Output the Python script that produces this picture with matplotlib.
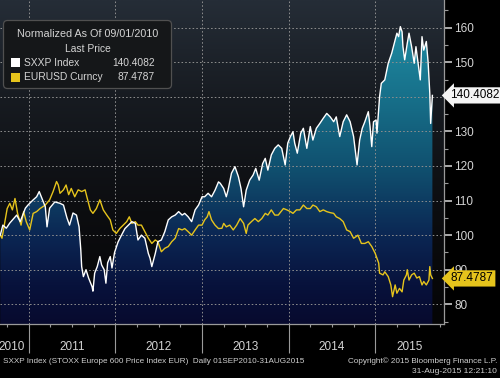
import numpy as np
import matplotlib
matplotlib.use('Agg')
import matplotlib.pyplot as plt
from matplotlib.colors import LinearSegmentedColormap
from matplotlib.patches import FancyBboxPatch, Rectangle, PathPatch
from matplotlib.transforms import Affine2D, blended_transform_factory

plt.rcParams['font.family'] = ['Liberation Sans', 'DejaVu Sans']

# ---------------- data ----------------
sxxp_dates = [2010.67, 2010.70, 2010.74, 2010.78, 2010.86, 2010.90, 2010.96, 2010.99, 2011.05, 2011.09,
              2011.12, 2011.15, 2011.19, 2011.21, 2011.24, 2011.30, 2011.36, 2011.40, 2011.44, 2011.47,
              2011.51, 2011.55, 2011.58, 2011.60, 2011.61, 2011.63, 2011.66, 2011.69, 2011.73, 2011.74,
              2011.76, 2011.79, 2011.82, 2011.84, 2011.87, 2011.89, 2011.91, 2011.94, 2011.96, 2011.99,
              2012.03, 2012.07, 2012.11, 2012.15, 2012.19, 2012.23, 2012.26, 2012.30, 2012.34, 2012.38,
              2012.40, 2012.42, 2012.46, 2012.49, 2012.53, 2012.57, 2012.61, 2012.65, 2012.69, 2012.73,
              2012.77, 2012.80, 2012.84, 2012.88, 2012.92, 2012.96, 2013.00, 2013.03, 2013.07, 2013.11,
              2013.15, 2013.19, 2013.21, 2013.25, 2013.28, 2013.30, 2013.34, 2013.38, 2013.42, 2013.45,
              2013.48, 2013.51, 2013.55, 2013.59, 2013.62, 2013.66, 2013.70, 2013.73, 2013.76, 2013.80,
              2013.84, 2013.88, 2013.92, 2013.96, 2013.99, 2014.02, 2014.05, 2014.07, 2014.10, 2014.14,
              2014.17, 2014.21, 2014.25, 2014.28, 2014.32, 2014.36, 2014.40, 2014.44, 2014.48, 2014.52,
              2014.55, 2014.59, 2014.63, 2014.67, 2014.71, 2014.75, 2014.79, 2014.82, 2014.85, 2014.88,
              2014.92, 2014.94, 2014.96, 2014.98, 2015.01, 2015.02, 2015.05, 2015.07, 2015.11, 2015.15,
              2015.19, 2015.22, 2015.25, 2015.27, 2015.29, 2015.31, 2015.32, 2015.34, 2015.37, 2015.39,
              2015.42, 2015.45, 2015.47, 2015.50, 2015.52, 2015.54, 2015.56, 2015.59, 2015.61, 2015.63,
              2015.64, 2015.66]
sxxp_values = [100.0, 102.9, 102.0, 103.5, 105.8, 103.9, 107.8, 108.7, 110.2, 111.1,
               112.6, 110.7, 108.2, 102.4, 107.8, 109.6, 109.2, 108.7, 105.0, 102.9,
               106.4, 105.8, 102.4, 95.7, 90.9, 88.0, 90.0, 87.6, 85.1, 83.8,
               89.0, 90.9, 93.8, 91.4, 90.0, 86.1, 92.0, 93.8, 90.5, 95.0,
               98.0, 100.0, 101.9, 102.9, 103.9, 103.4, 98.6, 100.0, 99.1, 94.7,
               93.3, 90.9, 94.7, 98.1, 98.6, 101.0, 104.4, 105.3, 105.8, 106.8,
               105.8, 106.3, 105.3, 103.9, 107.3, 108.7, 111.1, 111.1, 112.1, 111.1,
               113.0, 115.4, 115.0, 113.5, 111.1, 113.0, 117.9, 119.8, 116.9, 113.5,
               108.2, 113.0, 115.9, 117.4, 119.3, 115.9, 120.7, 122.2, 118.8, 123.2,
               125.1, 126.1, 125.1, 120.3, 126.6, 128.5, 129.9, 126.6, 123.7, 129.5,
               130.9, 125.1, 131.4, 127.5, 130.9, 132.3, 133.8, 135.2, 134.2, 132.8,
               134.2, 128.5, 132.8, 134.8, 132.8, 128.5, 120.3, 127.5, 130.9, 132.8,
               135.7, 131.4, 125.6, 132.8, 133.3, 129.5, 140.0, 143.9, 144.9, 149.7,
               152.6, 155.5, 158.4, 157.4, 160.3, 158.8, 154.5, 150.7, 155.5, 158.4,
               154.5, 149.7, 154.5, 148.7, 144.9, 157.4, 153.5, 156.0, 150.2, 141.0,
               132.3, 140.4082]

eurusd_dates = [2010.67, 2010.69, 2010.72, 2010.75, 2010.78, 2010.81, 2010.84, 2010.87, 2010.91, 2010.94,
                2010.97, 2011.01, 2011.05, 2011.09, 2011.13, 2011.19, 2011.24, 2011.28, 2011.32, 2011.34,
                2011.36, 2011.40, 2011.43, 2011.46, 2011.49, 2011.53, 2011.57, 2011.61, 2011.65, 2011.67,
                2011.71, 2011.74, 2011.78, 2011.82, 2011.86, 2011.90, 2011.94, 2011.97, 2012.01, 2012.05,
                2012.09, 2012.13, 2012.16, 2012.19, 2012.23, 2012.26, 2012.30, 2012.34, 2012.38, 2012.42,
                2012.46, 2012.49, 2012.53, 2012.57, 2012.61, 2012.65, 2012.69, 2012.73, 2012.77, 2012.80,
                2012.84, 2012.88, 2012.92, 2012.96, 2013.00, 2013.03, 2013.06, 2013.08, 2013.11, 2013.15,
                2013.19, 2013.23, 2013.25, 2013.28, 2013.32, 2013.36, 2013.40, 2013.44, 2013.48, 2013.51,
                2013.53, 2013.57, 2013.61, 2013.65, 2013.69, 2013.73, 2013.76, 2013.80, 2013.84, 2013.88,
                2013.94, 2013.98, 2014.02, 2014.05, 2014.09, 2014.13, 2014.17, 2014.21, 2014.25, 2014.28,
                2014.32, 2014.36, 2014.40, 2014.44, 2014.48, 2014.52, 2014.55, 2014.59, 2014.63, 2014.67,
                2014.71, 2014.75, 2014.78, 2014.80, 2014.84, 2014.88, 2014.92, 2014.96, 2015.00, 2015.04,
                2015.05, 2015.09, 2015.11, 2015.15, 2015.18, 2015.20, 2015.23, 2015.25, 2015.28, 2015.31,
                2015.33, 2015.36, 2015.37, 2015.39, 2015.42, 2015.45, 2015.48, 2015.51, 2015.54, 2015.56,
                2015.59, 2015.62, 2015.63, 2015.64, 2015.66]
eurusd_values = [100.0, 99.1, 103.4, 107.7, 109.2, 107.3, 110.6, 106.3, 102.9, 106.8,
                 103.9, 101.5, 106.3, 106.8, 107.7, 108.7, 110.2, 112.6, 115.5, 114.5,
                 112.1, 113.1, 114.5, 111.7, 113.5, 111.1, 113.1, 112.6, 113.1, 111.1,
                 107.3, 106.3, 107.7, 110.2, 107.3, 105.8, 104.4, 101.5, 100.5, 101.9,
                 102.9, 103.9, 105.3, 103.4, 103.9, 102.9, 102.9, 101.0, 99.1, 97.6,
                 98.6, 98.1, 95.2, 96.2, 96.7, 98.1, 99.1, 101.9, 101.5, 101.9,
                 101.0, 100.0, 101.5, 102.9, 102.9, 104.4, 105.3, 106.8, 104.4, 102.9,
                 101.9, 102.0, 103.4, 102.4, 102.9, 101.5, 102.9, 104.8, 103.4, 100.5,
                 102.9, 103.9, 104.8, 103.9, 104.8, 106.3, 105.8, 107.3, 105.8, 105.8,
                 107.7, 107.3, 106.8, 106.3, 107.3, 107.3, 108.7, 107.7, 107.7, 108.7,
                 108.2, 106.8, 107.3, 106.8, 106.5, 106.3, 105.3, 104.8, 103.9, 101.5,
                 101.0, 99.1, 99.6, 100.0, 97.6, 97.6, 98.1, 96.7, 94.7, 91.9,
                 89.0, 88.5, 89.4, 88.0, 85.6, 82.2, 85.6, 83.2, 84.6, 83.6,
                 87.0, 88.5, 90.0, 87.0, 88.5, 89.0, 87.6, 88.0, 85.6, 86.6,
                 85.6, 87.0, 90.9, 88.5, 87.4787]

year_labels = ['2010', '2011', '2012', '2013', '2014', '2015']
year_starts = [2011, 2012, 2013, 2014, 2015]
y_ticks = [80, 90, 100, 110, 120, 130, 140, 150, 160]
series_names = ['SXXP Index', 'EURUSD Curncy']
legend_title = 'Normalized As Of 09/01/2010'
legend_subtitle = 'Last Price'
footer_left = 'SXXP Index (STOXX Europe 600 Price Index EUR)  Daily 01SEP2010-31AUG2015'
footer_right1 = 'Copyright\u00a9 2015 Bloomberg Finance L.P.'
footer_right2 = '31-Aug-2015 12:21:10'

# ---------------- style ----------------
W, H = 500, 378
WHITE = '#ffffff'
YELLOW = '#e6c41c'
TXT = '#d4d4d4'
AXC = '#9a9a9a'

fig = plt.figure(figsize=(W / 100, H / 100), dpi=100, facecolor='black')
T = Affine2D().scale(1, -1).translate(0, H)  # pixel coords, y down

ax_right_px, ax_bottom_px = 444, 324
ax = fig.add_axes([0, 1 - ax_bottom_px / H, ax_right_px / W, ax_bottom_px / H])
ax.set_facecolor('black')

px_per_year = 86.6
x0 = 2010.667
x1 = x0 + ax_right_px / px_per_year
y0, y1 = 74.3, 168.0
ax.set_xlim(x0, x1)
ax.set_ylim(y0, y1)

grad = np.linspace(0, 1, 512).reshape(-1, 1)
bg_cmap = LinearSegmentedColormap.from_list('bg', [(0, '#050506'), (0.35, '#0c0d10'), (0.7, '#171b21'), (1, '#252d37')])
ax.imshow(grad, extent=[x0, x1, y0, y1], origin='lower', aspect='auto', cmap=bg_cmap,
          zorder=0, interpolation='bilinear')

fill_cmap = LinearSegmentedColormap.from_list('fill', [
    (0.0, '#070a2e'), (0.12, '#08123c'), (0.27, '#0b2653'), (0.48, '#10506f'),
    (0.70, '#17708a'), (0.90, '#1f89a0'), (1.0, '#2491a8')])
im = ax.imshow(grad, extent=[x0, x1, y0, y1], origin='lower', aspect='auto', cmap=fill_cmap,
               zorder=1, interpolation='bilinear')
poly = ax.fill_between(sxxp_dates, y0, sxxp_values, facecolor='none', edgecolor='none')
clip = PathPatch(poly.get_paths()[0], transform=ax.transData, facecolor='none', edgecolor='none')
ax.add_patch(clip)
im.set_clip_path(clip)
poly.remove()

# grid
for v in y_ticks:
    ax.axhline(v, color='#8f8f8f', lw=0.7, ls=(0, (1.6, 2.2)), zorder=2)
for v in year_starts:
    ax.axvline(v, color='#8f8f8f', lw=0.7, ls=(0, (1.6, 2.2)), zorder=2)

ax.plot(eurusd_dates, eurusd_values, color=YELLOW, lw=1.0, zorder=4)
ax.plot(sxxp_dates, sxxp_values, color=WHITE, lw=1.0, zorder=5)

# axes
for s in ['left', 'top']:
    ax.spines[s].set_visible(False)
for s in ['right', 'bottom']:
    ax.spines[s].set_color(AXC)
    ax.spines[s].set_linewidth(0.9)
ax.yaxis.tick_right()
ax.set_yticks(y_ticks)
# the 140 label sits behind the SXXP last-value tag in the reference
ax.set_yticklabels(['' if v == 140 else str(v) for v in y_ticks])
ax.set_yticks([75, 85, 95, 105, 115, 125, 135, 145, 155, 165], minor=True)
ax.tick_params(axis='y', which='major', length=6, width=1.2, color='#c8c8c8',
               labelcolor=TXT, labelsize=8.5, pad=1.5)
ax.tick_params(axis='y', which='minor', length=3, width=0.8, color=AXC)

quarters = [q for q in np.arange(2010.75, 2015.8, 0.25) if abs(q - round(q)) > 0.01]
ax.set_xticks(year_starts)
ax.set_xticks(quarters, minor=True)
ax.tick_params(axis='x', which='major', length=21, width=0.8, color=AXC, labelbottom=False)
ax.tick_params(axis='x', which='minor', length=2.5, width=0.8, color=AXC)

btr = blended_transform_factory(ax.transData, ax.transAxes)
label_centers = [x0 + 11.7 / px_per_year] + [y + 0.5 for y in year_starts[:-1]] + [(2015 + x1) / 2]
for lab, c in zip(year_labels, label_centers):
    ax.text(c, -23 / ax_bottom_px, lab, transform=btr, ha='center', va='center',
            color=TXT, fontsize=8.5, clip_on=False)

# last value tags
rtr = blended_transform_factory(ax.transAxes, ax.transData)
ax.text(1 + 6.5 / ax_right_px, sxxp_values[-1], f'{sxxp_values[-1]:.4f}', transform=rtr,
        ha='left', va='center', fontsize=8.5, color='black', zorder=10, clip_on=False,
        bbox=dict(boxstyle='larrow,pad=0.18', fc='#f4f4f4', ec='none'))
ax.text(1 + 6.5 / ax_right_px, eurusd_values[-1], f'{eurusd_values[-1]:.4f}', transform=rtr,
        ha='left', va='center', fontsize=8.5, color='black', zorder=10, clip_on=False,
        bbox=dict(boxstyle='larrow,pad=0.18', fc=YELLOW, ec='none'))

# ---------------- legend ----------------
renderer = fig.canvas.get_renderer()


def fitted(x, y, s, width, ha='left', va='center', color=TXT, size=7.0):
    t = fig.text(x, y, s, transform=T, ha=ha, va=va, color=color, fontsize=size, zorder=20)
    w = t.get_window_extent(renderer=renderer).width
    t.set_fontsize(size * width / w)
    return t


fig.add_artist(FancyBboxPatch((3.5, 20.5), 168, 68, boxstyle='round,pad=0,rounding_size=4',
                              transform=T, fc='#151719', ec='#505050', lw=0.9, zorder=15))
# size the legend font so that the longest series name fits its space
probe = fitted(24, 77.5, series_names[1], 79, ha='left')
leg_fs = probe.get_fontsize()
probe.remove()
fig.text(87.5, 34, legend_title, transform=T, ha='center', va='center', color=TXT,
         fontsize=leg_fs * 1.04, zorder=20)
fig.text(87.5, 49, legend_subtitle, transform=T, ha='center', va='center', color=TXT,
         fontsize=leg_fs, zorder=20)
for i, (name, vals, col) in enumerate([(series_names[0], sxxp_values, WHITE),
                                       (series_names[1], eurusd_values, YELLOW)]):
    yy = 62.5 + 15 * i
    fig.add_artist(Rectangle((11, yy - 4.5), 9, 9, transform=T, fc=col, ec='none', zorder=20))
    fig.text(24, yy, name, transform=T, ha='left', va='center', color=TXT, fontsize=leg_fs, zorder=20)
    fig.text(155, yy, f'{vals[-1]:.4f}', transform=T, ha='right', va='center', color=TXT,
             fontsize=leg_fs, zorder=20)

# ---------------- footer ----------------
fitted(3, 361.5, footer_left, 299, ha='left', color='#cfcfcf', size=5.5)
fitted(497, 361.5, footer_right1, 149, ha='right', color='#cfcfcf', size=5.5)
fitted(497, 371.5, footer_right2, 84, ha='right', color='#cfcfcf', size=5.5)

fig.savefig('out.png', dpi=100, facecolor='black')
